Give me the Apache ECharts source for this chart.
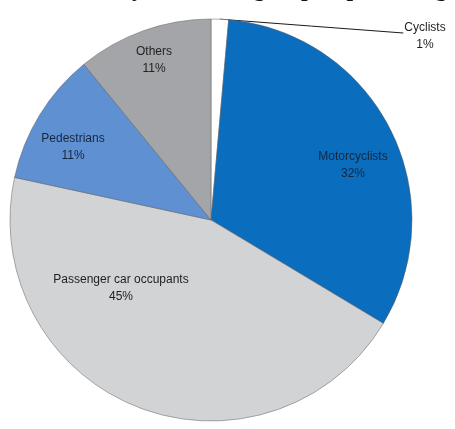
<!DOCTYPE html>
<html>
<head>
<meta charset="utf-8">
<script src="https://cdn.jsdelivr.net/npm/echarts@6/dist/echarts.min.js"></script>
<style>
  html, body { margin: 0; padding: 0; background: #ffffff; }
  #chart { width: 455px; height: 429px; }
</style>
</head>
<body>
<div id="chart"></div>
<script>
// ---- data ----
const titleText = 'Fatalities by road user group in percentage';
const categories = ['Cyclists', 'Motorcyclists', 'Passenger car occupants', 'Pedestrians', 'Others'];
const shares = [1.4, 32.2, 44.8, 10.7, 10.9];

// ---- styles ----
const sliceColors = ['#ffffff', '#0b6dbd', '#d2d3d5', '#5f90d2', '#a4a5a8'];
const labelColors = ['#1e1e1e', '#17263f', '#222222', '#17263f', '#222222'];
const labelCenters = [[425, 36.5], [353, 165.5], [121, 288], [73, 147], [154, 60]];

const chart = echarts.init(document.getElementById('chart'), null, { renderer: 'canvas' });

const data = categories.map((name, i) => ({
  name: name,
  value: shares[i],
  itemStyle: { color: sliceColors[i] },
  label: {
    color: labelColors[i],
    position: i === 0 ? 'outside' : 'inside'
  },
  labelLine: i === 0
    ? { show: true, length: 5, length2: 5, lineStyle: { color: '#1a1a1a', width: 1 } }
    : { show: false }
}));

chart.setOption({
  animation: false,
  title: {
    text: titleText,
    left: 18,
    top: -22,
    padding: 0,
    textStyle: {
      fontFamily: 'Liberation Serif',
      fontWeight: 'bold',
      fontSize: 24,
      color: '#111111'
    }
  },
  series: [{
    type: 'pie',
    center: [211, 220],
    radius: 201,
    startAngle: 90,
    clockwise: true,
    avoidLabelOverlap: false,
    silent: true,
    emphasis: { disabled: true },
    itemStyle: { borderColor: '#5e5e5e', borderWidth: 0.5 },
    label: {
      show: true,
      fontFamily: 'Liberation Sans',
      fontSize: 12,
      lineHeight: 17,
      align: 'center',
      formatter: p => p.name + '\n' + Math.round(p.percent) + '%'
    },
    labelLayout: function (p) {
      const c = labelCenters[p.dataIndex];
      const out = { x: c[0], y: c[1], align: 'center', verticalAlign: 'middle' };
      if (p.dataIndex === 0 && p.labelLinePoints) {
        const s = p.labelLinePoints[0];
        const e = [c[0] - p.labelRect.width / 2 - 1, c[1] - 3.5];
        out.labelLinePoints = [
          [s[0], s[1]],
          [(s[0] + e[0]) / 2, (s[1] + e[1]) / 2],
          e
        ];
      }
      return out;
    },
    data: data
  }]
});
</script>
</body>
</html>
